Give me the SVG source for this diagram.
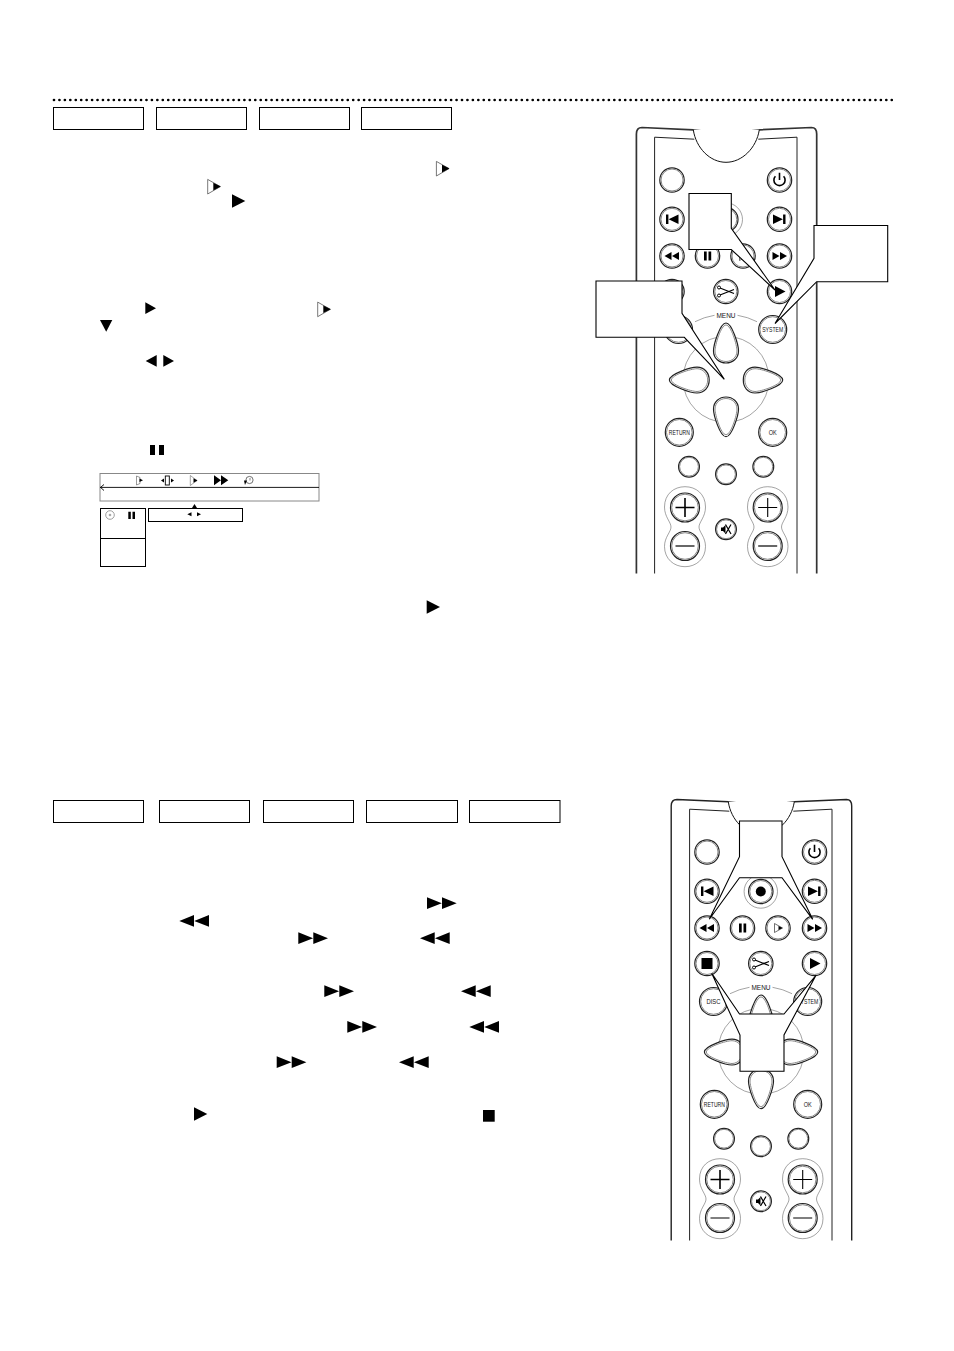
<svg xmlns="http://www.w3.org/2000/svg" xmlns:xlink="http://www.w3.org/1999/xlink" width="954" height="1351" viewBox="0 0 954 1351">
<style>
.box{fill:#fff;stroke:#000;stroke-width:1}
.call{fill:#fff;stroke:#000;stroke-width:1.1;stroke-linejoin:miter}
.k{fill:#000}
.ln{fill:none;stroke:#000}
.thin{fill:none;stroke:#666;stroke-width:.6}
.btn{fill:#fff;stroke:#222;stroke-width:1.2}
.ring{fill:none;stroke:#888;stroke-width:1}
.lab{font-family:"Liberation Sans",Arial,sans-serif;font-size:7.5px;fill:#111;text-anchor:middle;opacity:.98}
</style>
<defs>
<path id="ff" class="k" d="M0 0L14.8 5.9L0 11.7ZM15 0L29.7 5.9L15 11.7Z"/>
<path id="rw" class="k" d="M29.7 0L14.9 5.9L29.7 11.7ZM14.7 0L0 5.9L14.7 11.7Z"/>
<path id="play" class="k" d="M0 0L13.3 6.7L0 13.4Z"/>
<g id="oplay"><path d="M.4 .4L13 7.6L.4 15Z" fill="#fff" stroke="#555" stroke-width=".8"/><path class="k" d="M6 3.8L13.5 7.6L6 11.4Z"/></g>
<g id="b"><circle class="btn" r="12.2"/><circle class="ring" r="11"/></g>
<g id="bl"><circle class="btn" r="14"/><circle class="ring" r="12.8"/></g>
<g id="bs"><circle class="btn" r="10.4"/><circle class="ring" r="9.4"/></g>
<g id="remote-keys">
<g id="dpad-ring">
<circle cx="726" cy="379.3" r="43" class="thin"/>
<path class="thin" d="M695 321.7A65 65 0 0 1 714.5 315.3M737.5 315.3A65 65 0 0 1 757 321.7"/>
<text class="lab" x="726" y="317.5" textLength="19" lengthAdjust="spacingAndGlyphs">MENU</text>
</g>
<g id="key-blank"><use xlink:href="#b" x="672" y="180"/></g>
<g id="key-power"><use xlink:href="#b" x="779.5" y="180"/><path class="ln" style="stroke-width:1.6" d="M775.4 176.2A5.6 5.6 0 1 0 783.6 176.2M779.5 172.8V180"/></g>
<g id="key-prev"><use xlink:href="#b" x="672" y="219.3"/><path class="k" d="M666 214.5H668.4V224H666ZM678.5 214.5V224L668.6 219.3Z"/></g>
<g id="key-next"><use xlink:href="#b" x="779.5" y="219.3"/><path class="k" d="M785.5 214.5H783.1V224H785.5ZM773 214.5V224L782.9 219.3Z"/></g>
<g id="key-record"><circle cx="725.8" cy="219.5" r="16.7" class="thin"/><use xlink:href="#b" x="725.8" y="219.5"/><circle cx="725.8" cy="219.5" r="5" class="k"/></g>
<g id="key-rew"><use xlink:href="#b" x="672" y="256"/><path class="k" d="M664.5 256L671.5 252V260ZM672 256L679 252V260Z"/></g>
<g id="key-pause"><use xlink:href="#b" x="707.5" y="256"/><path class="k" d="M704 251.5H706.7V260.5H704ZM708.5 251.5H711.2V260.5H708.5Z"/></g>
<g id="key-slow"><use xlink:href="#b" x="743" y="256"/><path d="M739.5 251.5L747.5 256L739.5 260.5Z" fill="#fff" stroke="#333" stroke-width=".7"/><path class="k" d="M743.5 254L747.5 256L743.5 258Z"/></g>
<g id="key-fwd"><use xlink:href="#b" x="779.5" y="256"/><path class="k" d="M772.5 252L779.5 256L772.5 260ZM780 252L787 256L780 260Z"/></g>
<g id="key-stop"><use xlink:href="#b" x="672" y="291.5"/><rect class="k" x="666.5" y="286" width="11" height="11"/></g>
<g id="key-cut"><use xlink:href="#b" x="725.8" y="291.5"/><path class="ln" style="stroke-width:1.2" d="M720 288L734 293.5M720 295L734 289.5"/><circle cx="719" cy="287.5" r="1.5" class="ln"/><circle cx="719" cy="295.5" r="1.5" class="ln"/></g>
<g id="key-play"><use xlink:href="#b" x="779.5" y="291.5"/><path class="k" d="M775 286L785.5 291.5L775 297Z"/></g>
<g id="key-disc"><use xlink:href="#bl" x="678.5" y="329.5"/><text class="lab" x="678.5" y="332.2" textLength="14" lengthAdjust="spacingAndGlyphs">DISC</text></g>
<g id="key-system"><use xlink:href="#bl" x="772.7" y="329.5"/><text class="lab" x="772.7" y="332.2" textLength="21" lengthAdjust="spacingAndGlyphs">SYSTEM</text></g>
<g id="key-up"><path class="btn" d="M726 323C732 323 738.5 345 738.5 351C738.5 358.5 732.5 363 726 363C719.5 363 713.5 358.5 713.5 351C713.5 345 720 323 726 323Z"/><path class="ring" d="M726 325C731 325 737 345 737 351C737 357 732 361.5 726 361.5C720 361.5 715 357 715 351C715 345 721 325 726 325Z"/></g>
<g id="key-down"><path class="btn" d="M726 436.7C732 436.7 738.5 415 738.5 409C738.5 401.5 732.5 397 726 397C719.5 397 713.5 401.5 713.5 409C713.5 415 720 436.7 726 436.7Z"/><path class="ring" d="M726 434.7C731 434.7 737 415 737 409C737 403 732 398.5 726 398.5C720 398.5 715 403 715 409C715 415 721 434.7 726 434.7Z"/></g>
<g id="key-left"><path class="btn" d="M669.4 380C669.4 374 691 367.2 697 367.2C704.5 367.2 709.2 373 709.2 380C709.2 387 704.5 393 697 393C691 393 669.4 386 669.4 380Z"/><path class="ring" d="M671.4 380C671.4 375 691 368.7 697 368.7C703 368.7 707.7 374 707.7 380C707.7 386 703 391.5 697 391.5C691 391.5 671.4 385 671.4 380Z"/></g>
<g id="key-right"><path class="btn" d="M782.7 380C782.7 374 761 367.2 755 367.2C747.5 367.2 743.3 373 743.3 380C743.3 387 747.5 393 755 393C761 393 782.7 386 782.7 380Z"/><path class="ring" d="M780.7 380C780.7 375 761 368.7 755 368.7C749 368.7 744.8 374 744.8 380C744.8 386 749 391.5 755 391.5C761 391.5 780.7 385 780.7 380Z"/></g>
<g id="key-return"><use xlink:href="#bl" x="679.3" y="432.3"/><text class="lab" x="679.3" y="435" textLength="21" lengthAdjust="spacingAndGlyphs">RETURN</text></g>
<g id="key-ok"><use xlink:href="#bl" x="772.7" y="432.3"/><text class="lab" x="772.7" y="435" textLength="8" lengthAdjust="spacingAndGlyphs">OK</text></g>
<g id="key-a"><use xlink:href="#bs" x="689" y="466.7"/></g>
<g id="key-b"><use xlink:href="#bs" x="726" y="474.3"/></g>
<g id="key-c"><use xlink:href="#bs" x="763.3" y="466.7"/></g>
<g id="vol-left"><path class="thin" d="M664.5 507C664.5 494 674 486.7 685 486.7C696 486.7 705.5 494 705.5 507C705.5 517 699 522 699 527C699 532 705.5 537 705.5 546.5C705.5 559 696 566.7 685 566.7C674 566.7 664.5 559 664.5 546.5C664.5 537 671 532 671 527C671 522 664.5 517 664.5 507Z"/>
<circle class="btn" cx="685" cy="507.5" r="14.5"/><circle class="ring" cx="685" cy="507.5" r="13.3"/><path class="ln" style="stroke-width:1.6" d="M675.5 507.5H694.5M685 498V517"/>
<circle class="btn" cx="685" cy="546" r="14.5"/><circle class="ring" cx="685" cy="546" r="13.3"/><path class="ln" style="stroke-width:1.2" d="M675.5 546H694.5"/></g>
<g id="vol-right"><path class="thin" d="M747.5 507C747.5 494 757 486.7 767.7 486.7C778.5 486.7 788 494 788 507C788 517 781.5 522 781.5 527C781.5 532 788 537 788 546.5C788 559 778.5 566.7 767.7 566.7C757 566.7 747.5 559 747.5 546.5C747.5 537 754 532 754 527C754 522 747.5 517 747.5 507Z"/>
<circle class="btn" cx="767.7" cy="507.5" r="14.5"/><circle class="ring" cx="767.7" cy="507.5" r="13.3"/><path class="ln" style="stroke-width:1.1" d="M758.2 507.5H777.2M767.7 498V517"/>
<circle class="btn" cx="767.7" cy="546" r="14.5"/><circle class="ring" cx="767.7" cy="546" r="13.3"/><path class="ln" style="stroke-width:1.2" d="M758.2 546H777.2"/></g>
<g id="key-mute"><use xlink:href="#bs" x="726" y="529.3"/><path class="k" d="M721 527.5H723L725.5 525V533.5L723 531H721Z"/><path class="ln" style="stroke-width:1.2" d="M725.5 524.5L731 534M731 524.5L725.5 534"/></g>
</g>
<clipPath id="clip2"><rect x="630" y="120" width="195" height="448.5"/></clipPath>
</defs>
<rect width="954" height="1351" fill="#fff"/>
<g id="rule"><path d="M54 100H892.5" fill="none" stroke="#000" stroke-width="2.7" stroke-linecap="round" stroke-dasharray="0 5.44"/></g>
<g id="tabs-top">
<rect id="tab1" class="box" x="53.5" y="107.5" width="90" height="22"/>
<rect id="tab2" class="box" x="156.5" y="107.5" width="90" height="22"/>
<rect id="tab3" class="box" x="259.5" y="107.5" width="90" height="22"/>
<rect id="tab4" class="box" x="361.5" y="107.5" width="90" height="22"/>
</g>
<g id="tabs-bottom">
<rect id="tab5" class="box" x="53.5" y="800.5" width="90" height="22"/>
<rect id="tab6" class="box" x="159.5" y="800.5" width="90" height="22"/>
<rect id="tab7" class="box" x="263.5" y="800.5" width="90" height="22"/>
<rect id="tab8" class="box" x="366.5" y="800.5" width="91" height="22"/>
<rect id="tab9" class="box" x="469.5" y="800.5" width="90.5" height="22"/>
</g>
<g id="inline-icons-top">
<use xlink:href="#oplay" x="436" y="161"/>
<use xlink:href="#oplay" x="207.3" y="179"/>
<use xlink:href="#play" x="232" y="194.3"/>
<path class="k" d="M145.3 302.3L156 308.2L145.3 314Z"/>
<use xlink:href="#oplay" x="317.3" y="301.7"/>
<path class="k" d="M100 320H112.3L106.2 331.7Z"/>
<path class="k" d="M156.7 355V366.7L145.7 360.9ZM163.3 355V366.7L174 360.9Z"/>
<path class="k" d="M150 445H155V455H150ZM159 445H164V455H159Z"/>
<use xlink:href="#play" x="426.7" y="600.3"/>
</g>
<g id="status-panel">
<rect x="100" y="473.5" width="219" height="27.5" fill="#fff" stroke="#888" stroke-width="1"/>
<path class="ln" style="stroke-width:.9" d="M100 487.4H319M104 484.5L100.5 487.4L104 490.5"/>
<path d="M136.5 476V485L140 483.5V477.5Z" fill="#fff" stroke="#555" stroke-width=".6"/><path class="k" d="M143 480.3L139.5 478.5V482Z"/>
<path class="k" d="M161 480.5L164 478.5V482.5ZM174 480.5L171 478.5V482.5Z"/><rect x="165.3" y="476" width="4" height="9" fill="#fff" stroke="#000" stroke-width=".9"/>
<path d="M190.3 475.5L197 480.5L190.3 485.5Z" fill="#fff" stroke="#666" stroke-width=".6"/><path class="k" d="M193.5 478.3L197.5 480.5L193.5 482.7Z"/>
<path class="k" d="M214 475.3L221 480.3L214 485.3ZM221 475.3L228.3 480.3L221 485.3Z"/>
<circle cx="249.5" cy="480" r="3.6" fill="#fff" stroke="#333" stroke-width=".7"/><path class="k" d="M244 480.5H247L245 485Z"/><path class="ln" style="stroke-width:.5" d="M250 478V480.5"/>
<path class="k" d="M194.5 504L197 508H192Z"/>
<rect x="148.5" y="508.5" width="94" height="13" fill="#fff" stroke="#000" stroke-width="1"/>
<path class="k" d="M187.3 514.3L191.5 512.3V516.3ZM201 514.3L197 512.3V516.3Z"/>
<rect x="100.5" y="508.5" width="45" height="58" fill="#fff" stroke="#000" stroke-width="1"/>
<path class="ln" style="stroke-width:1" d="M100.5 538.5H145.5"/>
<circle cx="110" cy="515" r="4.3" fill="#fff" stroke="#888" stroke-width=".8"/><circle cx="110" cy="515" r="1.3" fill="#aaa"/>
<path class="k" d="M128.3 511.8H130.8V519H128.3ZM132.5 511.8H135V519H132.5Z"/>
</g>
<g id="inline-icons-bottom">
<use xlink:href="#ff" x="427" y="897.3"/>
<use xlink:href="#rw" x="179.3" y="915"/>
<use xlink:href="#ff" x="298.3" y="932.3"/>
<use xlink:href="#rw" x="420" y="932.3"/>
<use xlink:href="#ff" x="324.3" y="985.3"/>
<use xlink:href="#rw" x="461" y="985.3"/>
<use xlink:href="#ff" x="347.3" y="1021"/>
<use xlink:href="#rw" x="469.3" y="1021"/>
<use xlink:href="#ff" x="276.7" y="1056.3"/>
<use xlink:href="#rw" x="399" y="1056.3"/>
<use xlink:href="#play" x="194" y="1107.3"/>
<rect class="k" x="483" y="1110" width="11.7" height="11.7"/>
</g>
<g id="remote-1">
<path d="M636.4 573.5V134Q636.4 127.5 642 127.5L693.3 129.8Q726 134.5 726 134.2Q726 134.5 759.3 129.8L811.5 127.5Q816.7 127.5 816.7 134V573.5" fill="#fff" stroke="#333" stroke-width="1.7"/>
<path d="M654.6 573.5V137.2L694.3 139.2M758.3 139.2L797 137.2V573.5" fill="none" stroke="#222" stroke-width="1"/>
<path d="M693.3 129.8C696 148 710 162.3 726 162.3C742 162.3 756.5 148 759.3 129.8" fill="#fff" stroke="#111" stroke-width="1"/>
<use xlink:href="#remote-keys"/>
</g>
<g id="remote-2">
<path d="M671.2 1240.5V806Q671.2 799.5 677 799.5L728.3 801.8Q761 806.5 761 806.2Q761 806.5 794.3 801.8L846.5 799.5Q851.7 799.5 851.7 806V1240.5" fill="#fff" stroke="#222" stroke-width="1.4"/>
<path d="M689.6 1240.5V809.2L729.3 811.2M793.3 811.2L832 809.2V1240.5" fill="none" stroke="#222" stroke-width="1"/>
<path d="M728.3 801.8C731 820 745 834.3 761 834.3C777 834.3 791.5 820 794.3 801.8" fill="#fff" stroke="#111" stroke-width="1"/>
<g clip-path="url(#clip2)" transform="translate(35 672)"><use xlink:href="#remote-keys"/></g>
</g>
<g id="callouts">
<path id="callout-play" class="call" d="M689 193.5H731.3V228.3L775 290L731.3 249.5H689Z"/>
<path id="callout-system" class="call" d="M814 225.5H887.7V281.7H816.7L775 323.5L814 258.3Z"/>
<path id="callout-dpad" class="call" d="M596 281H682V313.3L724.3 379.3L684.3 337.3H596Z"/>
<path id="callout-search" class="call" d="M739.5 821H782V856.7L812.7 919.3L782 877.7H739.5L709.3 919.3L739.5 856.7Z"/>
<path id="callout-stop-play" class="call" d="M711.7 973.3L739.5 1014H784L816 975.3L784 1035V1071.3H740V1035Z"/>
</g>
</svg>
